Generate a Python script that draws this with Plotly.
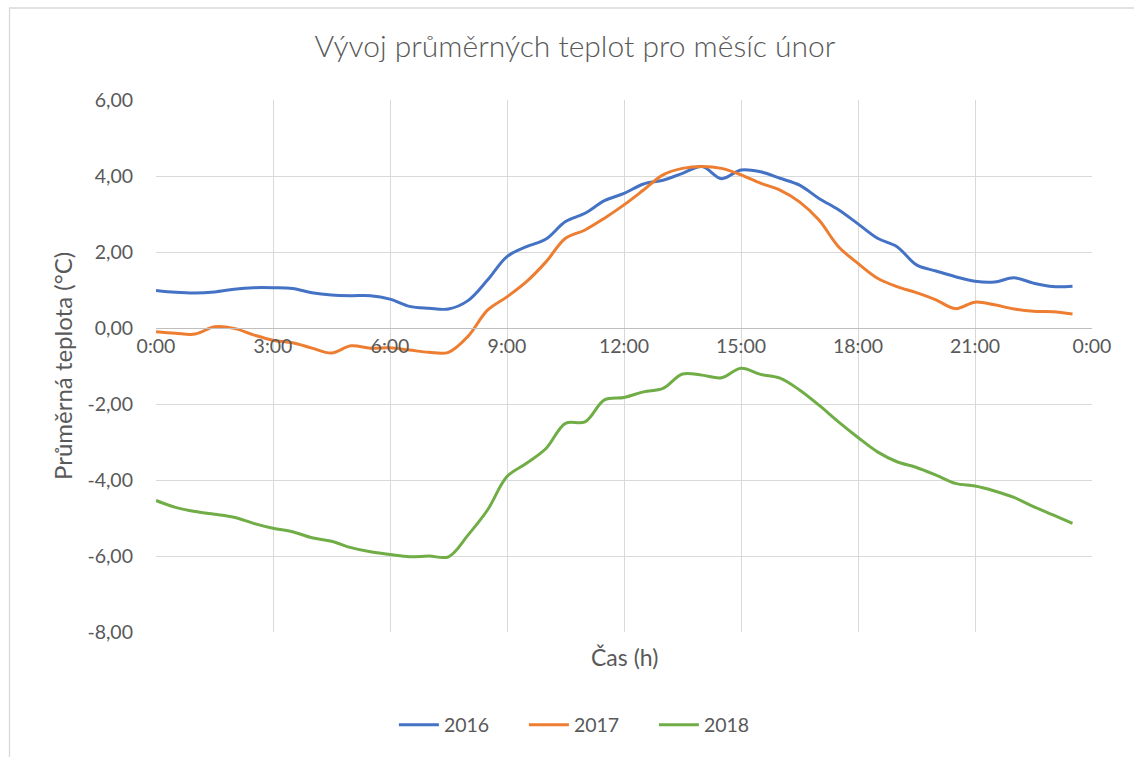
import plotly.graph_objects as go

times = ["0:00", "0:30", "1:00", "1:30", "2:00", "2:30", "3:00", "3:30",
         "4:00", "4:30", "5:00", "5:30", "6:00", "6:30", "7:00", "7:30",
         "8:00", "8:30", "9:00", "9:30", "10:00", "10:30", "11:00", "11:30",
         "12:00", "12:30", "13:00", "13:30", "14:00", "14:30", "15:00", "15:30",
         "16:00", "16:30", "17:00", "17:30", "18:00", "18:30", "19:00", "19:30",
         "20:00", "20:30", "21:00", "21:30", "22:00", "22:30", "23:00", "23:30"]

t2016 = [0.99, 0.94, 0.92, 0.95, 1.02, 1.06, 1.06, 1.04,
         0.93, 0.87, 0.85, 0.85, 0.76, 0.57, 0.52, 0.50,
         0.72, 1.26, 1.88, 2.14, 2.34, 2.80, 3.02, 3.35,
         3.54, 3.79, 3.89, 4.07, 4.25, 3.93, 4.16, 4.11,
         3.94, 3.76, 3.41, 3.11, 2.74, 2.36, 2.14, 1.66,
         1.50, 1.35, 1.23, 1.21, 1.32, 1.18, 1.09, 1.10]

t2017 = [-0.10, -0.14, -0.16, 0.03, -0.01, -0.18, -0.32, -0.39,
         -0.53, -0.66, -0.47, -0.53, -0.52, -0.58, -0.64, -0.64,
         -0.22, 0.47, 0.82, 1.22, 1.74, 2.36, 2.58, 2.89,
         3.24, 3.63, 4.03, 4.20, 4.25, 4.20, 4.03, 3.81,
         3.63, 3.32, 2.84, 2.14, 1.70, 1.31, 1.09, 0.93,
         0.74, 0.51, 0.68, 0.61, 0.50, 0.44, 0.43, 0.37]

t2018 = [-4.54, -4.72, -4.83, -4.90, -4.98, -5.14, -5.27, -5.36,
         -5.52, -5.61, -5.78, -5.89, -5.96, -6.02, -6.00, -6.02,
         -5.45, -4.79, -3.91, -3.56, -3.17, -2.51, -2.47, -1.89,
         -1.83, -1.68, -1.59, -1.21, -1.24, -1.31, -1.06, -1.22,
         -1.32, -1.63, -2.03, -2.47, -2.88, -3.26, -3.52, -3.67,
         -3.87, -4.09, -4.16, -4.29, -4.46, -4.70, -4.92, -5.14]

series_names = ["2016", "2017", "2018"]
series_colors = ["#4472C4", "#ED7D31", "#70AD47"]

x_tick_labels = ["0:00", "3:00", "6:00", "9:00", "12:00", "15:00", "18:00", "21:00", "0:00"]
x_tick_hours = [0, 3, 6, 9, 12, 15, 18, 21, 24]
y_tick_vals = [6, 4, 2, 0, -2, -4, -6, -8]
y_tick_labels = ["6,00", "4,00", "2,00", "0,00", "-2,00", "-4,00", "-6,00", "-8,00"]

def to_hours(s):
    h, m = s.split(":")
    return int(h) + int(m) / 60.0

x = [to_hours(t) for t in times]

FONT = "Lato"
TXT = "#595959"
GRID = "#d9d9d9"
TICK_SIZE = 19.5

fig = go.Figure()
for name, vals, col in zip(series_names, [t2016, t2017, t2018], series_colors):
    fig.add_trace(go.Scatter(
        x=x, y=vals, name=name, mode="lines",
        line=dict(color=col, width=3, shape="spline", smoothing=1.0),
        customdata=times,
        hovertemplate="%{customdata}: %{y:.2f}<extra>" + name + "</extra>",
    ))

fig.update_layout(
    width=1134, height=757,
    margin=dict(l=156, r=42, t=100, b=125),
    paper_bgcolor="white", plot_bgcolor="white",
    font=dict(family=FONT, color=TXT, size=TICK_SIZE),
    title=dict(text="Vývoj průměrných teplot pro měsíc únor",
               x=0.507, xanchor="center", y=0.938, yanchor="middle",
               font=dict(family=FONT, size=30, color=TXT, weight=300)),
    showlegend=True,
    legend=dict(orientation="h", x=0.4625, xanchor="center", y=-0.175, yanchor="middle",
                font=dict(size=TICK_SIZE, color=TXT), itemwidth=40, tracegroupgap=0,
                entrywidth=75, entrywidthmode="pixels"),
    xaxis=dict(range=[0, 24], tickvals=x_tick_hours, ticktext=x_tick_labels,
               showgrid=True, gridcolor=GRID, gridwidth=1.3,
               anchor="free", position=8 / 14,
               showline=True, linecolor="#bfbfbf", linewidth=1.3,
               zeroline=False, ticks="", tickfont=dict(size=TICK_SIZE, color=TXT),
               fixedrange=True),
    yaxis=dict(range=[-8, 6], tickvals=y_tick_vals, ticktext=y_tick_labels,
               showgrid=True, gridcolor=GRID, gridwidth=1.3,
               zeroline=False, showline=False, ticks="",
               ticklabelstandoff=22, tickfont=dict(size=TICK_SIZE, color=TXT),
               fixedrange=True),
    annotations=[
        dict(text="Čas (h)", xref="paper", yref="paper", x=0.5, y=-0.047,
             xanchor="center", yanchor="middle", showarrow=False,
             font=dict(size=23, color=TXT, family=FONT)),
        dict(text="Průměrná teplota (°C)", xref="paper", yref="paper",
             x=-0.1004, y=0.5, xanchor="center", yanchor="middle",
             textangle=-90, showarrow=False,
             font=dict(size=24, color=TXT, family=FONT)),
    ],
    shapes=[
        dict(type="rect", xref="paper", yref="paper",
             x0=-0.1565, x1=1.2, y0=-0.4, y1=1.1729,
             line=dict(color=GRID, width=1.3), fillcolor="rgba(0,0,0,0)", layer="below"),
    ],
)

fig.write_html("out.html", config={"displayModeBar": False},
               post_script="document.body.style.margin='0';document.body.style.padding='0';")
